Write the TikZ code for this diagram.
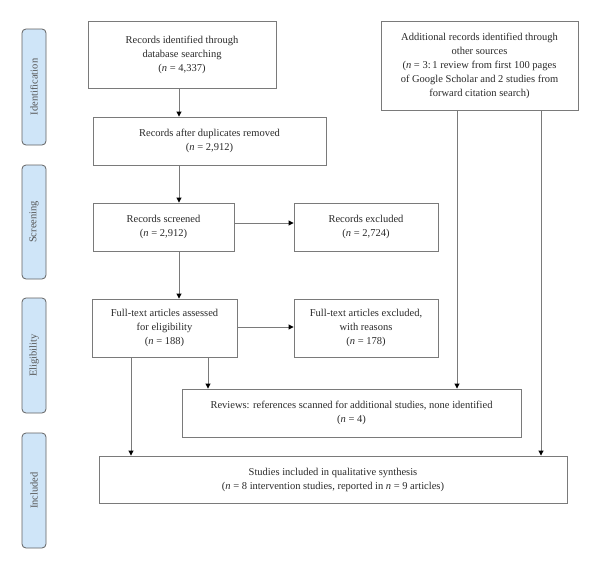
\documentclass[tikz,border=0pt]{standalone}
\usepackage{fontspec}
\setmainfont{Liberation Serif}
\usetikzlibrary{arrows.meta}
\definecolor{tabfill}{HTML}{CFE5F8}
\definecolor{edge}{HTML}{7A7A7A}
\definecolor{txt}{HTML}{2A2A2A}
\begin{document}
\begin{tikzpicture}[x=1pt,y=-1pt,
  box/.style={draw=edge,line width=0.9pt,fill=white,align=center,inner sep=2pt,
    font=\fontsize{10.5}{14}\selectfont,text=txt},
  tab/.style={draw=edge!80!black,line width=0.8pt,fill=tabfill,rounded corners=4pt,
    minimum width=24pt,inner sep=0pt},
  tablabel/.style={rotate=90,font=\fontsize{10.5}{12}\selectfont,text=txt!80},
  arr/.style={draw=edge,line width=0.9pt,-{Triangle[black,length=5pt,width=5pt]}},
  ln/.style={draw=edge,line width=0.9pt}]
\useasboundingbox (0,0) rectangle (600,570);
\fill[white] (0,0) rectangle (600,570);

% tabs
\node[tab,minimum height=116pt] (t1) at (34,87) {};
\node[tablabel] (t1l) at (t1.center) {Identification};
\node[tab,minimum height=114pt] (t2) at (34,222) {};
\node[tablabel] (t2l) at (t2.center) {Screening};
\node[tab,minimum height=115pt] (t3) at (34,355.5) {};
\node[tablabel] (t3l) at (t3.center) {Eligibility};
\node[tab,minimum height=115pt] (t4) at (34,490.5) {};
\node[tablabel] (t4l) at (t4.center) {Included};

% boxes
\node[box,minimum width=188pt,minimum height=67pt] (b1) at (182,54.5)
  {Records identified through\\database searching\\(\textit{n} = 4,337)};
\node[box,minimum width=197pt,minimum height=89pt] (add) at (479.5,65.5)
  {Additional records identified through\\other sources\\(\textit{n} = 3:\,1 review from first 100 pages\\of Google Scholar and 2 studies from\\forward citation search)};
\node[box,minimum width=233pt,minimum height=48pt] (b2) at (209.5,141)
  {Records after duplicates removed\\(\textit{n} = 2,912)};
\node[box,minimum width=141pt,minimum height=48pt] (scr) at (163.5,227)
  {Records screened\\(\textit{n} = 2,912)};
\node[box,minimum width=144pt,minimum height=48pt] (exc) at (366,227)
  {Records excluded\\(\textit{n} = 2,724)};
\node[box,minimum width=145pt,minimum height=58pt] (ass) at (164.5,328)
  {Full-text articles assessed\\for eligibility\\(\textit{n} = 188)};
\node[box,minimum width=144pt,minimum height=58pt] (fte) at (366,328)
  {Full-text articles excluded,\\with reasons\\(\textit{n} = 178)};
\node[box,minimum width=339pt,minimum height=48pt] (rev) at (351.5,413)
  {Reviews: references scanned for additional studies, none identified\\(\textit{n} = 4)};
\node[box,minimum width=468pt,minimum height=47pt] (inc) at (333,479.5)
  {Studies included in qualitative synthesis\\(\textit{n} = 8 intervention studies, reported in \textit{n} = 9 articles)};

% connector guides
\coordinate (cx) at (179,0);
\coordinate (ax1) at (457,0);
\coordinate (ax2) at (541,0);
\coordinate (lx1) at (131,0);
\coordinate (lx2) at (208,0);
\coordinate (hy1) at (0,223);
\coordinate (hy2) at (0,327);

\draw[arr] (cx |- b1.south) -- (cx |- b2.north);
\draw[arr] (cx |- b2.south) -- (cx |- scr.north);
\draw[arr] (cx |- scr.south) -- (cx |- ass.north);
\draw[arr] (scr.east |- hy1) -- (exc.west |- hy1);
\draw[arr] (ass.east |- hy2) -- (fte.west |- hy2);
\draw[arr] (lx2 |- ass.south) -- (lx2 |- rev.north);
\draw[arr] (lx1 |- ass.south) -- (lx1 |- inc.north);
\draw[arr] (ax1 |- add.south) -- (ax1 |- rev.north);
\draw[arr] (ax2 |- add.south) -- (ax2 |- inc.north);
\end{tikzpicture}
\end{document}
